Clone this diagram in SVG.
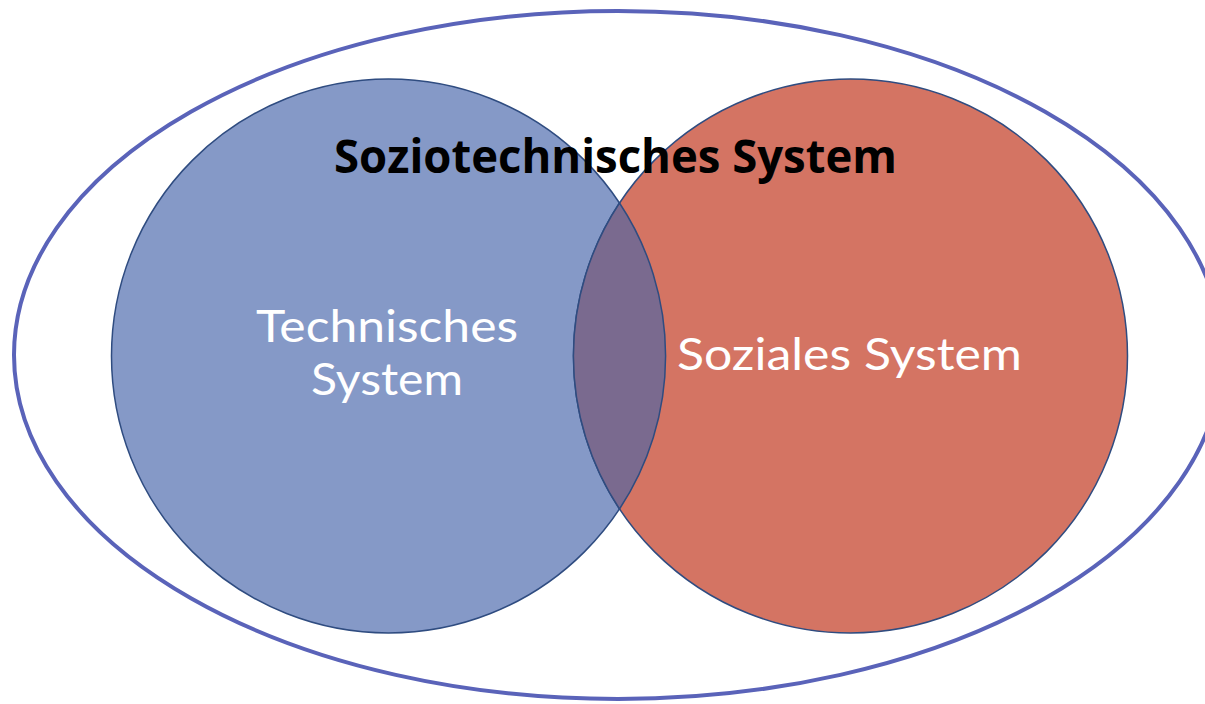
<svg xmlns="http://www.w3.org/2000/svg" width="1205" height="704" viewBox="0 0 1205 704">
<style>
.lbl{font-family:Lato,"Open Sans","Liberation Sans",sans-serif;fill:#ffffff;font-size:44px}
.title{font-family:"Open Sans","Liberation Sans",sans-serif;font-weight:bold;fill:#000000;font-size:47px}
.circ{stroke:#2f4c80;stroke-width:1.5}
</style>
<rect width="1205" height="704" fill="#ffffff"/>
<g id="outer">
<ellipse cx="618" cy="355" rx="604" ry="344" fill="none" stroke="#5a63b9" stroke-width="4"/>
</g>
<g id="technisches">
<circle class="circ" cx="388.5" cy="356" r="277" fill="#8599c7"/>
</g>
<g id="soziales">
<circle class="circ" cx="850.5" cy="356" r="277" fill="#d47463"/>
</g>
<g id="overlap">
<path d="M619.5,203 A277,277 0 0 1 619.5,509 A277,277 0 0 1 619.5,203 Z" fill="#7a6a8f" stroke="#2f4c80" stroke-width="1.5"/>
</g>
<g id="labels">
<text class="lbl" x="256" y="342" textLength="262" lengthAdjust="spacingAndGlyphs">Technisches</text>
<text class="lbl" x="311" y="395" textLength="152" lengthAdjust="spacingAndGlyphs">System</text>
<text class="lbl" x="677" y="370" textLength="345" lengthAdjust="spacingAndGlyphs">Soziales System</text>
</g>
<g id="title">
<text class="title" x="334" y="173" textLength="563" lengthAdjust="spacingAndGlyphs">Soziotechnisches System</text>
</g>
<g id="connectors"></g>
</svg>
